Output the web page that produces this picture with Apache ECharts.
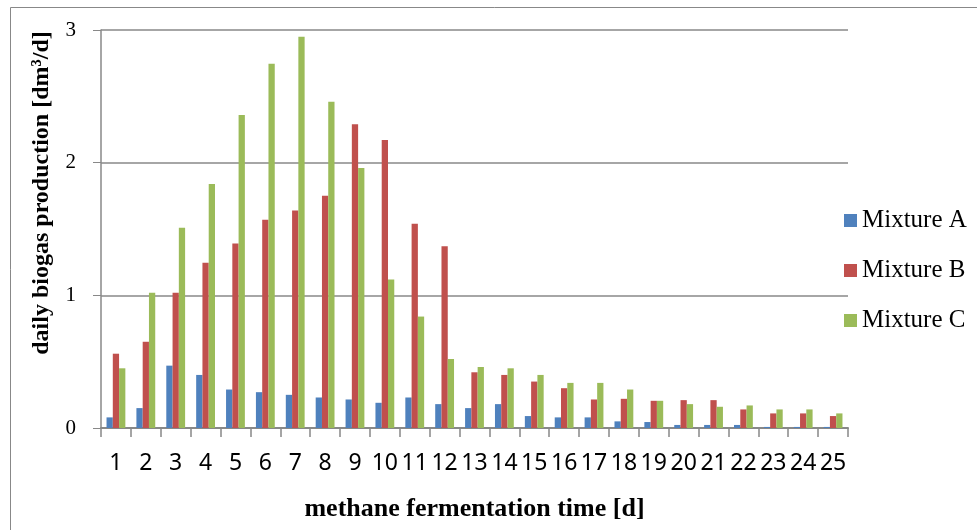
<!DOCTYPE html>
<html>
<head>
<meta charset="utf-8">
<script src="https://cdn.jsdelivr.net/npm/echarts@6/dist/echarts.min.js"></script>
<style>
html,body{margin:0;padding:0;background:#fff;}
#chart{width:977px;height:530px;}
</style>
</head>
<body>
<div id="chart"></div>
<script>
const categories = ['1','2','3','4','5','6','7','8','9','10','11','12','13','14','15','16','17','18','19','20','21','22','23','24','25'];
const seriesNames = ['Mixture A','Mixture B','Mixture C'];
const mixtureA = [0.08,0.15,0.47,0.40,0.29,0.27,0.25,0.23,0.215,0.19,0.23,0.18,0.15,0.18,0.09,0.08,0.08,0.05,0.045,0.023,0.023,0.023,0.008,0.008,0.008];
const mixtureB = [0.56,0.65,1.02,1.245,1.39,1.57,1.64,1.75,2.29,2.17,1.54,1.37,0.42,0.40,0.35,0.30,0.215,0.22,0.205,0.21,0.21,0.14,0.11,0.11,0.09];
const mixtureC = [0.45,1.02,1.51,1.84,2.36,2.745,2.95,2.46,1.96,1.12,0.84,0.52,0.46,0.45,0.40,0.34,0.34,0.29,0.205,0.18,0.16,0.17,0.14,0.14,0.11];
const yTicks = [0,1,2,3];
const colors = ['#4F81BD','#C0504D','#9BBB59'];
const dataSets = [mixtureA, mixtureB, mixtureC];

const chart = echarts.init(document.getElementById('chart'), null, {renderer:'canvas'});
const grey = '#888888';
chart.setOption({
  animation:false,
  backgroundColor:'#ffffff',
  graphic:[{type:'rect', shape:{x:10.5,y:7.5,width:1200,height:800}, style:{fill:'none',stroke:grey,lineWidth:1}, silent:true}],
  grid:{left:101,right:129,top:30,bottom:102,containLabel:false},
  legend:{
    orient:'vertical', left:839, top:203, itemGap:25, itemWidth:13, itemHeight:13,
    icon:'rect',
    textStyle:{fontFamily:'Liberation Serif',fontSize:25,color:'#000',lineHeight:24},
    data:seriesNames
  },
  xAxis:{
    type:'category', data:categories, boundaryGap:true,
    axisLine:{show:true,lineStyle:{color:grey,width:2}},
    axisTick:{show:true,length:9,lineStyle:{color:grey,width:1.5}},
    axisLabel:{interval:0,margin:24,fontFamily:'Noto Sans',fontSize:23,color:'#000'},
    name:'methane fermentation time [d]', nameLocation:'middle', nameGap:68,
    nameTextStyle:{fontFamily:'Liberation Serif',fontWeight:'bold',fontSize:26,color:'#000'}
  },
  yAxis:{
    type:'value', min:yTicks[0], max:yTicks[yTicks.length-1], interval:1,
    axisLine:{show:true,lineStyle:{color:grey,width:1.5}},
    axisTick:{show:true,length:8,lineStyle:{color:grey,width:1}},
    splitLine:{show:true,lineStyle:{color:grey,width:1.5}},
    axisLabel:{margin:25,fontFamily:'Liberation Serif',fontSize:21,color:'#000'},
    name:'daily biogas production [dm³/d]', nameLocation:'middle', nameGap:47,
    nameTextStyle:{fontFamily:'Liberation Serif',fontWeight:'bold',fontSize:24,color:'#000',padding:[0,0,0,72]}
  },
  series: seriesNames.map((n,i)=>({
    name:n, type:'bar', data:dataSets[i], barGap:'0%', barCategoryGap:'37%',
    itemStyle:{color:colors[i]}
  }))
});
</script>
</body>
</html>
